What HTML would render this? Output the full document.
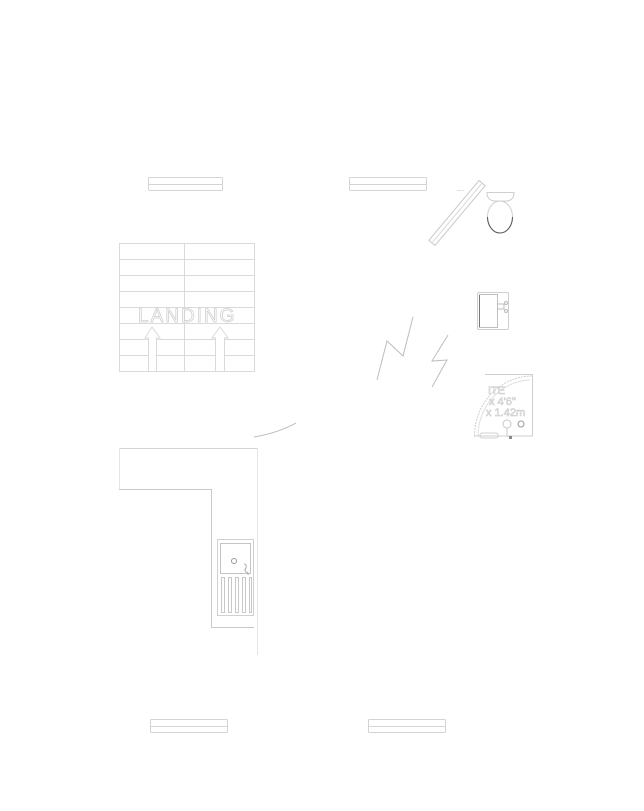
<!DOCTYPE html>
<html><head><meta charset="utf-8"><style>
html,body{margin:0;padding:0;background:#fff;}
svg{display:block;}
</style></head><body>
<svg width="644" height="811" viewBox="0 0 644 811" xmlns="http://www.w3.org/2000/svg" font-family="Liberation Sans, sans-serif">
<rect width="644" height="811" fill="#fff"/>
<g fill="none" stroke="#d4d4d4" stroke-width="1">
  <!-- top bars -->
  <rect x="148.5" y="177.5" width="74" height="13" rx="1"/>
  <line x1="149" y1="184.5" x2="222" y2="184.5"/>
  <rect x="349.5" y="177.5" width="77" height="13" rx="1"/>
  <line x1="350" y1="184.5" x2="426" y2="184.5"/>
  <!-- bottom bars -->
  <rect x="150.5" y="719.5" width="77" height="13" rx="1"/>
  <line x1="151" y1="726.5" x2="227" y2="726.5"/>
  <rect x="368.5" y="719.5" width="77" height="13" rx="1"/>
  <line x1="369" y1="726.5" x2="445" y2="726.5"/>

  <!-- stairs grid -->
  <g stroke="#dadada">
    <line x1="119.5" y1="243" x2="119.5" y2="371"/>
    <line x1="254.5" y1="243" x2="254.5" y2="371"/>
    <line x1="184.5" y1="243" x2="184.5" y2="371"/>
    <line x1="119" y1="243.5" x2="255" y2="243.5"/>
    <line x1="119" y1="259.5" x2="255" y2="259.5"/>
    <line x1="119" y1="275.5" x2="255" y2="275.5"/>
    <line x1="119" y1="291.5" x2="255" y2="291.5"/>
    <line x1="119" y1="307.5" x2="255" y2="307.5"/>
    <line x1="119" y1="323.5" x2="255" y2="323.5"/>
    <line x1="119" y1="339.5" x2="148" y2="339.5"/>
    <line x1="157" y1="339.5" x2="215" y2="339.5"/>
    <line x1="224" y1="339.5" x2="255" y2="339.5"/>
    <line x1="119" y1="355.5" x2="148" y2="355.5"/>
    <line x1="157" y1="355.5" x2="215" y2="355.5"/>
    <line x1="224" y1="355.5" x2="255" y2="355.5"/>
    <line x1="119" y1="371.5" x2="255" y2="371.5"/>
    <!-- arrows -->
    <polyline points="148.5,371 148.5,338 145,338 152,327 160,338 156.5,338 156.5,371"/>
    <polyline points="215.5,371 215.5,338 212,338 220,327 228,338 224.5,338 224.5,371"/>
  </g>
  <text x="138" y="322" font-size="19" letter-spacing="2" fill="#fff" stroke="#d0d0d0" stroke-width="0.8">LANDING</text>

  <!-- door arc -->
  <path d="M254,437 Q278,433 296,423" stroke="#b8b8b8"/>

  <!-- kitchen -->
  <line x1="119" y1="448.5" x2="257" y2="448.5"/>
  <line x1="257.5" y1="448" x2="257.5" y2="655" stroke="#e6e6e6"/>
  <line x1="119.5" y1="448" x2="119.5" y2="490" stroke="#e6e6e6"/>
  <polyline points="119,489.5 211.5,489.5 211.5,627.5 254,627.5" stroke="#c8c8c8"/>
  <!-- sink -->
  <rect x="217.5" y="539.5" width="36" height="76" stroke="#d0d0d0"/>
  <rect x="220.5" y="543.5" width="30" height="30" stroke="#c4c4c4"/>
  <circle cx="234" cy="561" r="2.5" stroke="#999"/>
  <path d="M244,564 q3,0 2,4 q-2,2 0,4 q3,1 2,3" stroke="#aaa"/>
  <g stroke="#c8c8c8">
    <rect x="221.5" y="577.5" width="3" height="35"/>
    <rect x="228.5" y="577.5" width="3" height="35"/>
    <rect x="235.5" y="577.5" width="3" height="35"/>
    <rect x="242.5" y="577.5" width="3" height="35"/>
    <rect x="249.5" y="577.5" width="2" height="35"/>
  </g>

  <!-- lightning bolts -->
  <polyline points="377,380 387,341 403,356 413,317" stroke="#bdbdbd"/>
  <polyline points="448,335 432,361 447,360 432,387" stroke="#bdbdbd"/>

  <!-- diagonal screen -->
  <g transform="rotate(-50 457 213)">
    <rect x="418" y="209" width="78" height="8" stroke="#c8c8c8"/>
    <line x1="419" y1="213" x2="495" y2="213" stroke="#d8d8d8"/>
  </g>
  <line x1="457" y1="190.5" x2="464" y2="190.5" stroke="#e0e0e0"/>

  <!-- toilet -->
  <path d="M487,192.5 L514,192.5 Q514,200 507,201 L494,201 Q487,200 487,192.5 Z" stroke="#cfcfcf"/>
  <ellipse cx="500" cy="217" rx="12.5" ry="16" stroke="#cfcfcf"/>
  <path d="M487.5,217 A12.5,16 0 0 0 512.5,217" stroke="#555" stroke-width="1"/>

  <!-- basin -->
  <rect x="477.5" y="292.5" width="31" height="37" rx="1.5" stroke="#cfcfcf"/>
  <rect x="479.5" y="294.5" width="18" height="33" stroke="#c0c0c0"/>
  <line x1="479.5" y1="295" x2="479.5" y2="327" stroke="#777"/>
  <path d="M497,304 h7 v5 h-7" stroke="#bbb"/>
  <circle cx="506" cy="303" r="1.5" stroke="#bbb"/>
  <circle cx="506" cy="311" r="1.5" stroke="#bbb"/>

  <!-- shower -->
  <path d="M485,374.5 H532.5 V436 H474" stroke="#cfcfcf"/>
  <path d="M474.5,436 A58,60 0 0 1 532,376" stroke="#d0d0d0" stroke-dasharray="2 1"/>
  <path d="M478,436 A54,56 0 0 1 530,380" stroke="#e0e0e0"/>
  <rect x="480" y="433" width="18" height="5" rx="2" stroke="#d0d0d0"/>
  <circle cx="507" cy="424" r="4" stroke="#c8c8c8"/>
  <line x1="507" y1="428" x2="507" y2="437" stroke="#c8c8c8"/>
  <circle cx="521" cy="424" r="3" stroke="#999"/>
  <rect x="509" y="436" width="3" height="3" fill="#888" stroke="none"/>
</g>
<g font-size="11" fill="#fff" stroke="#c8c8c8" stroke-width="0.6">
  <text x="488" y="394">ITE</text>
  <text x="489" y="405">x 4'6"</text>
  <text x="486" y="416">x 1.42m</text>
</g>
</svg>
</body></html>
